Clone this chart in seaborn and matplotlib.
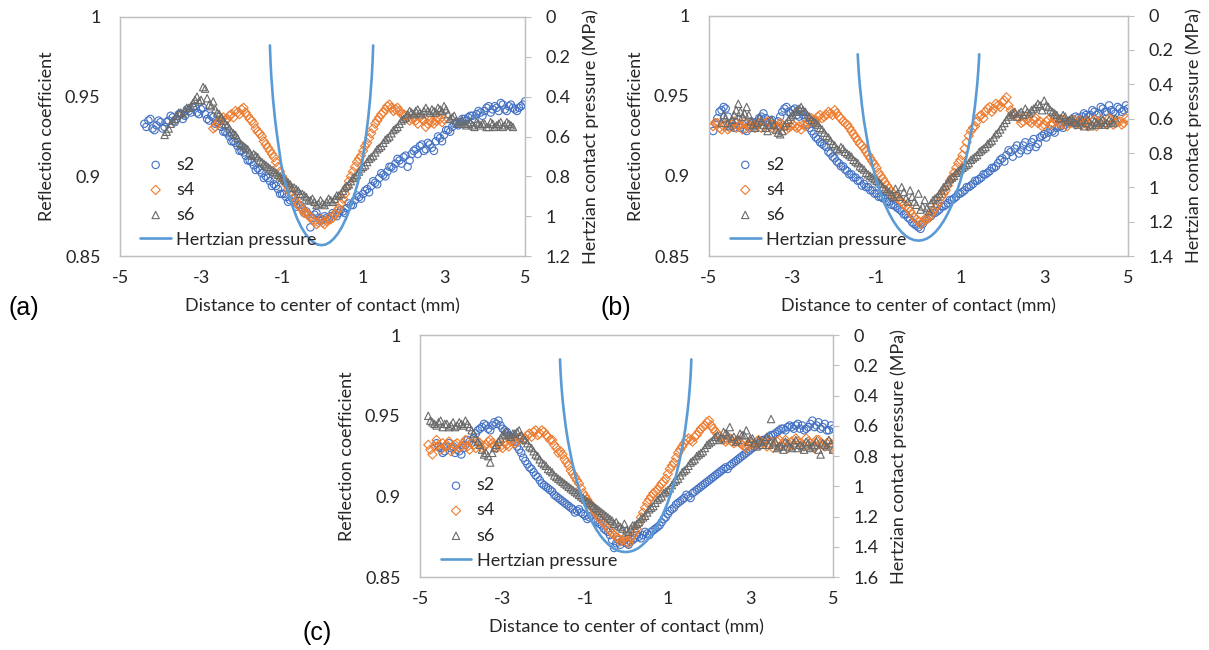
import numpy as np
import pandas as pd
import matplotlib
matplotlib.use("Agg")
import matplotlib.pyplot as plt
import seaborn as sns
from matplotlib.ticker import FuncFormatter, FixedLocator

# ---------------- data ----------------
# Each series is sampled every 0.1 mm (main list) plus the points lying
# between them (".._mid" list, starting 0.05 mm later).
STEP = 0.1
series_names = ["s2", "s4", "s6"]
line_name = "Hertzian pressure"
x_ticks = [-5, -3, -1, 1, 3, 5]
r_ticks = [0.85, 0.9, 0.95, 1.0]

# ---- panel (a)
a_s2_start = -4.4
a_s2 = [0.933, 0.935, 0.930, 0.932, 0.934, 0.931, 0.935, 0.937, 0.936, 0.939,
        0.938, 0.941, 0.943, 0.940, 0.942, 0.939, 0.935, 0.937, 0.934, 0.931,
        0.928, 0.925, 0.922, 0.919, 0.916, 0.913, 0.910, 0.907, 0.905, 0.902,
        0.900, 0.897, 0.895, 0.892, 0.889, 0.887, 0.885, 0.884, 0.882, 0.880,
        0.878, 0.868, 0.876, 0.874, 0.873, 0.874, 0.875, 0.876, 0.877, 0.878,
        0.880, 0.882, 0.885, 0.887, 0.889, 0.892, 0.894, 0.896, 0.899, 0.901,
        0.903, 0.906, 0.908, 0.910, 0.912, 0.906, 0.914, 0.917, 0.919, 0.916,
        0.921, 0.918, 0.922, 0.924, 0.926, 0.929, 0.931, 0.933, 0.934, 0.936,
        0.937, 0.938, 0.939, 0.940, 0.941, 0.944, 0.942, 0.943, 0.946, 0.942,
        0.944, 0.943, 0.941, 0.944, 0.947]
a_s2_mid = [0.931, 0.936, 0.929, 0.935, 0.930, 0.934, 0.938, 0.934, 0.939, 0.936,
            0.942, 0.940, 0.944, 0.939, 0.943, 0.936, 0.938, 0.933, 0.933, 0.928,
            0.927, 0.922, 0.921, 0.916, 0.915, 0.910, 0.909, 0.904, 0.904, 0.899,
            0.899, 0.894, 0.894, 0.889, 0.889, 0.884, 0.886, 0.881, 0.882, 0.877,
            0.876, 0.874, 0.877, 0.872, 0.875, 0.873, 0.877, 0.875, 0.879, 0.877,
            0.883, 0.882, 0.888, 0.886, 0.891, 0.890, 0.897, 0.895, 0.902, 0.900,
            0.906, 0.905, 0.911, 0.908, 0.913, 0.910, 0.916, 0.914, 0.920, 0.917,
            0.920, 0.916, 0.925, 0.922, 0.929, 0.928, 0.933, 0.932, 0.936, 0.935,
            0.938, 0.936, 0.941, 0.938, 0.943, 0.940, 0.944, 0.941, 0.945, 0.941,
            0.945, 0.942, 0.943, 0.945]
a_s4_start = -2.7
a_s4 = [0.930, 0.933, 0.936, 0.935, 0.938, 0.937, 0.940, 0.942, 0.940, 0.936,
        0.933, 0.928, 0.925, 0.920, 0.916, 0.912, 0.906, 0.900, 0.895, 0.890,
        0.886, 0.882, 0.879, 0.877, 0.874, 0.872, 0.871, 0.871, 0.872, 0.873,
        0.876, 0.880, 0.886, 0.893, 0.900, 0.906, 0.911, 0.916, 0.921, 0.927,
        0.933, 0.937, 0.940, 0.944, 0.943, 0.942, 0.941, 0.939, 0.937, 0.936,
        0.935, 0.937, 0.935, 0.933, 0.934, 0.935, 0.936, 0.936]
a_s4_mid = [0.931, 0.935, 0.937, 0.936, 0.939, 0.941, 0.939, 0.943, 0.938, 0.935,
            0.930, 0.927, 0.922, 0.918, 0.914, 0.909, 0.903, 0.898, 0.892, 0.888,
            0.884, 0.881, 0.877, 0.876, 0.873, 0.870, 0.873, 0.870, 0.874, 0.874,
            0.878, 0.883, 0.889, 0.897, 0.903, 0.909, 0.913, 0.919, 0.924, 0.930,
            0.935, 0.939, 0.942, 0.945, 0.941, 0.943, 0.939, 0.938, 0.935, 0.937,
            0.933, 0.936, 0.931, 0.935, 0.933, 0.937, 0.934]
a_s6_start = -3.9
a_s6 = [0.926, 0.930, 0.935, 0.938, 0.940, 0.941, 0.943, 0.946, 0.950, 0.948,
        0.955, 0.945, 0.947, 0.940, 0.937, 0.933, 0.930, 0.927, 0.924, 0.920,
        0.918, 0.915, 0.914, 0.912, 0.909, 0.907, 0.905, 0.903, 0.901, 0.899,
        0.897, 0.895, 0.893, 0.891, 0.889, 0.887, 0.885, 0.884, 0.883, 0.883,
        0.884, 0.885, 0.886, 0.888, 0.891, 0.894, 0.897, 0.900, 0.903, 0.906,
        0.909, 0.912, 0.915, 0.918, 0.921, 0.924, 0.927, 0.930, 0.933, 0.936,
        0.939, 0.940, 0.941, 0.940, 0.941, 0.941, 0.942, 0.940, 0.942, 0.944,
        0.939, 0.937, 0.935, 0.934, 0.933, 0.933, 0.932, 0.934, 0.932, 0.933,
        0.931, 0.933, 0.932, 0.934, 0.932, 0.933, 0.931]
a_s6_mid = [0.928, 0.933, 0.936, 0.940, 0.939, 0.943, 0.944, 0.948, 0.947, 0.956,
            0.949, 0.944, 0.942, 0.939, 0.935, 0.932, 0.928, 0.926, 0.921, 0.919,
            0.917, 0.913, 0.913, 0.910, 0.908, 0.906, 0.904, 0.902, 0.900, 0.898,
            0.896, 0.893, 0.892, 0.889, 0.888, 0.885, 0.886, 0.882, 0.885, 0.882,
            0.886, 0.884, 0.888, 0.889, 0.893, 0.895, 0.899, 0.901, 0.905, 0.907,
            0.911, 0.913, 0.917, 0.919, 0.923, 0.925, 0.929, 0.931, 0.935, 0.937,
            0.941, 0.939, 0.942, 0.939, 0.943, 0.940, 0.941, 0.943, 0.941, 0.942,
            0.936, 0.938, 0.933, 0.935, 0.932, 0.934, 0.931, 0.933, 0.933, 0.931,
            0.934, 0.931, 0.933, 0.931, 0.934, 0.932]
a_hx = [-1.300, -1.285, -1.265, -1.225, -1.175, -1.125, -1.025, -0.925, -0.825,
        -0.725, -0.625, -0.525, -0.425, -0.325, -0.225, -0.125, -0.025, 0.075,
        0.175, 0.275, 0.375, 0.475, 0.575, 0.675, 0.775, 0.875, 0.975, 1.075,
        1.125, 1.175, 1.215, 1.235, 1.250]
a_hp = [0.143, 0.225, 0.300, 0.409, 0.511, 0.592, 0.735, 0.830, 0.900, 0.960,
        1.013, 1.055, 1.088, 1.113, 1.131, 1.142, 1.145, 1.142, 1.131, 1.113,
        1.088, 1.055, 1.013, 0.960, 0.900, 0.830, 0.735, 0.592, 0.511, 0.409,
        0.300, 0.225, 0.143]
a_p_ticks = [0, 0.2, 0.4, 0.6, 0.8, 1.0, 1.2]

# ---- panel (b)
b_s2_start = -4.9
b_s2 = [0.928, 0.936, 0.941, 0.942, 0.933, 0.930, 0.935, 0.932, 0.928, 0.934,
        0.931, 0.936, 0.939, 0.933, 0.935, 0.931, 0.937, 0.942, 0.940, 0.941,
        0.938, 0.940, 0.936, 0.930, 0.926, 0.923, 0.920, 0.918, 0.914, 0.911,
        0.908, 0.906, 0.903, 0.901, 0.899, 0.897, 0.895, 0.893, 0.891, 0.889,
        0.887, 0.886, 0.884, 0.882, 0.880, 0.878, 0.876, 0.873, 0.870, 0.868,
        0.870, 0.873, 0.875, 0.877, 0.879, 0.881, 0.883, 0.885, 0.887, 0.889,
        0.891, 0.893, 0.895, 0.897, 0.899, 0.901, 0.903, 0.905, 0.908, 0.911,
        0.913, 0.915, 0.917, 0.914, 0.919, 0.916, 0.921, 0.918, 0.924, 0.926,
        0.927, 0.928, 0.930, 0.931, 0.932, 0.934, 0.935, 0.936, 0.937, 0.938,
        0.938, 0.940, 0.939, 0.942, 0.940, 0.941, 0.939, 0.942, 0.941, 0.942]
b_s2_mid = [0.933, 0.940, 0.943, 0.937, 0.931, 0.933, 0.930, 0.929, 0.931, 0.933,
            0.934, 0.937, 0.936, 0.934, 0.932, 0.934, 0.940, 0.943, 0.939, 0.942,
            0.937, 0.938, 0.932, 0.928, 0.924, 0.921, 0.919, 0.915, 0.912, 0.909,
            0.906, 0.904, 0.901, 0.899, 0.897, 0.894, 0.893, 0.891, 0.889, 0.887,
            0.886, 0.884, 0.882, 0.881, 0.879, 0.876, 0.874, 0.871, 0.869, 0.867,
            0.872, 0.874, 0.877, 0.878, 0.881, 0.882, 0.885, 0.886, 0.889, 0.890,
            0.893, 0.894, 0.897, 0.898, 0.901, 0.902, 0.905, 0.906, 0.910, 0.909,
            0.916, 0.912, 0.919, 0.916, 0.921, 0.918, 0.923, 0.920, 0.925, 0.924,
            0.929, 0.927, 0.931, 0.930, 0.934, 0.933, 0.937, 0.935, 0.939, 0.937,
            0.941, 0.938, 0.943, 0.940, 0.944, 0.940, 0.943, 0.940, 0.944]
b_s4_start = -4.9
b_s4 = [0.931, 0.933, 0.929, 0.932, 0.930, 0.934, 0.931, 0.929, 0.933, 0.931,
        0.930, 0.933, 0.931, 0.934, 0.932, 0.930, 0.933, 0.931, 0.930, 0.932,
        0.930, 0.929, 0.931, 0.934, 0.935, 0.937, 0.936, 0.938, 0.939, 0.941,
        0.937, 0.934, 0.932, 0.928, 0.924, 0.920, 0.917, 0.913, 0.909, 0.905,
        0.900, 0.896, 0.892, 0.889, 0.886, 0.884, 0.881, 0.878, 0.874, 0.872,
        0.871, 0.873, 0.876, 0.880, 0.884, 0.889, 0.894, 0.899, 0.905, 0.910,
        0.917, 0.925, 0.930, 0.934, 0.938, 0.940, 0.943, 0.942, 0.944, 0.946,
        0.949, 0.941, 0.938, 0.936, 0.934, 0.935, 0.933, 0.936, 0.934, 0.932,
        0.935, 0.933, 0.934, 0.932, 0.934, 0.933, 0.935, 0.933, 0.932, 0.934,
        0.932, 0.935, 0.933, 0.934, 0.932, 0.935, 0.933, 0.934, 0.933, 0.935]
b_s4_mid = [0.933, 0.930, 0.931, 0.929, 0.932, 0.930, 0.932, 0.934, 0.930, 0.932,
            0.932, 0.930, 0.933, 0.931, 0.929, 0.931, 0.932, 0.929, 0.931, 0.931,
            0.931, 0.932, 0.933, 0.936, 0.934, 0.938, 0.937, 0.940, 0.938, 0.939,
            0.936, 0.933, 0.930, 0.926, 0.922, 0.919, 0.915, 0.911, 0.907, 0.902,
            0.898, 0.894, 0.890, 0.887, 0.885, 0.882, 0.880, 0.876, 0.873, 0.870,
            0.873, 0.874, 0.878, 0.882, 0.887, 0.891, 0.897, 0.902, 0.908, 0.913,
            0.921, 0.928, 0.931, 0.937, 0.936, 0.942, 0.940, 0.945, 0.943, 0.947,
            0.944, 0.939, 0.937, 0.933, 0.937, 0.934, 0.935, 0.933, 0.931, 0.934,
            0.932, 0.936, 0.933, 0.935, 0.931, 0.934, 0.932, 0.935, 0.933, 0.931,
            0.934, 0.931, 0.935, 0.933, 0.936, 0.932, 0.934, 0.932, 0.936]
b_s6_start = -4.7
b_s6 = [0.933, 0.936, 0.931, 0.938, 0.945, 0.937, 0.943, 0.934, 0.930, 0.936,
        0.932, 0.928, 0.935, 0.929, 0.926, 0.931, 0.935, 0.938, 0.941, 0.943,
        0.940, 0.937, 0.934, 0.932, 0.929, 0.925, 0.922, 0.919, 0.916, 0.917,
        0.914, 0.912, 0.909, 0.906, 0.904, 0.901, 0.899, 0.897, 0.895, 0.892,
        0.890, 0.887, 0.889, 0.893, 0.886, 0.891, 0.884, 0.889, 0.881, 0.880,
        0.883, 0.886, 0.889, 0.893, 0.896, 0.899, 0.902, 0.904, 0.906, 0.908,
        0.911, 0.913, 0.916, 0.918, 0.921, 0.924, 0.927, 0.931, 0.935, 0.938,
        0.940, 0.939, 0.938, 0.940, 0.941, 0.943, 0.944, 0.947, 0.943, 0.940,
        0.938, 0.936, 0.937, 0.935, 0.934, 0.932, 0.935, 0.933, 0.931, 0.934,
        0.932, 0.935, 0.933, 0.934, 0.936]
b_s6_mid = [0.938, 0.933, 0.935, 0.941, 0.940, 0.939, 0.938, 0.932, 0.933, 0.934,
            0.930, 0.932, 0.932, 0.927, 0.928, 0.933, 0.937, 0.940, 0.942, 0.941,
            0.938, 0.935, 0.933, 0.930, 0.927, 0.924, 0.920, 0.917, 0.918, 0.915,
            0.913, 0.910, 0.908, 0.905, 0.902, 0.900, 0.898, 0.896, 0.893, 0.891,
            0.888, 0.892, 0.887, 0.890, 0.884, 0.887, 0.882, 0.879, 0.885, 0.878,
            0.885, 0.887, 0.891, 0.894, 0.898, 0.900, 0.903, 0.905, 0.907, 0.910,
            0.912, 0.915, 0.917, 0.920, 0.922, 0.926, 0.929, 0.933, 0.937, 0.939,
            0.937, 0.940, 0.942, 0.939, 0.942, 0.945, 0.941, 0.944, 0.941, 0.939,
            0.936, 0.938, 0.934, 0.936, 0.933, 0.934, 0.931, 0.935, 0.932, 0.933,
            0.934, 0.932, 0.935, 0.933]
b_hx = [-1.45, -1.44, -1.42, -1.40, -1.35, -1.30, -1.2, -1.1, -1.0, -0.9, -0.8,
        -0.7, -0.6, -0.5, -0.4, -0.3, -0.2, -0.1, 0.0, 0.1, 0.2, 0.3, 0.4, 0.5,
        0.6, 0.7, 0.8, 0.9, 1.0, 1.1, 1.2, 1.30, 1.35, 1.40, 1.42, 1.44, 1.45]
b_hp = [0.225, 0.272, 0.345, 0.405, 0.522, 0.614, 0.759, 0.871, 0.961, 1.037,
        1.100, 1.152, 1.196, 1.232, 1.261, 1.283, 1.298, 1.307, 1.310, 1.307,
        1.298, 1.283, 1.261, 1.232, 1.196, 1.152, 1.100, 1.037, 0.961, 0.871,
        0.759, 0.614, 0.522, 0.405, 0.345, 0.272, 0.225]
b_p_ticks = [0, 0.2, 0.4, 0.6, 0.8, 1.0, 1.2, 1.4]

# ---- panel (c)
c_s2_start = -4.6
c_s2 = [0.933, 0.930, 0.928, 0.933, 0.931, 0.929, 0.926, 0.932, 0.934, 0.936,
        0.941, 0.943, 0.944, 0.941, 0.946, 0.947, 0.942, 0.940, 0.937, 0.934,
        0.929, 0.924, 0.920, 0.917, 0.913, 0.910, 0.907, 0.905, 0.903, 0.900,
        0.898, 0.896, 0.894, 0.892, 0.891, 0.890, 0.888, 0.887, 0.886, 0.884,
        0.882, 0.879, 0.876, 0.868, 0.873, 0.872, 0.871, 0.872, 0.874, 0.875,
        0.876, 0.877, 0.878, 0.880, 0.882, 0.886, 0.889, 0.892, 0.895, 0.897,
        0.899, 0.900, 0.902, 0.904, 0.906, 0.908, 0.910, 0.912, 0.914, 0.916,
        0.918, 0.919, 0.921, 0.923, 0.925, 0.927, 0.929, 0.931, 0.933, 0.935,
        0.936, 0.938, 0.939, 0.941, 0.942, 0.943, 0.943, 0.944, 0.942, 0.941,
        0.943, 0.947, 0.944, 0.942, 0.945, 0.941, 0.942]
c_s2_mid = [0.931, 0.927, 0.931, 0.930, 0.927, 0.928, 0.930, 0.935, 0.933, 0.939,
            0.942, 0.945, 0.942, 0.944, 0.945, 0.944, 0.941, 0.938, 0.936, 0.931,
            0.927, 0.922, 0.918, 0.915, 0.912, 0.908, 0.906, 0.904, 0.901, 0.899,
            0.897, 0.895, 0.893, 0.890, 0.892, 0.889, 0.886, 0.888, 0.885, 0.883,
            0.880, 0.878, 0.873, 0.871, 0.870, 0.873, 0.870, 0.873, 0.876, 0.874,
            0.878, 0.876, 0.879, 0.881, 0.884, 0.887, 0.891, 0.893, 0.896, 0.898,
            0.901, 0.899, 0.903, 0.905, 0.907, 0.909, 0.911, 0.913, 0.915, 0.917,
            0.917, 0.920, 0.922, 0.924, 0.926, 0.928, 0.930, 0.932, 0.934, 0.935,
            0.937, 0.938, 0.940, 0.942, 0.941, 0.944, 0.942, 0.945, 0.944, 0.942,
            0.945, 0.943, 0.946, 0.943, 0.941, 0.944]
c_s4_start = -4.8
c_s4 = [0.932, 0.926, 0.935, 0.929, 0.931, 0.934, 0.930, 0.933, 0.931, 0.935,
        0.929, 0.932, 0.934, 0.930, 0.932, 0.935, 0.931, 0.933, 0.930, 0.932,
        0.934, 0.933, 0.936, 0.935, 0.938, 0.937, 0.941, 0.939, 0.940, 0.937,
        0.935, 0.930, 0.928, 0.923, 0.919, 0.914, 0.910, 0.905, 0.900, 0.896,
        0.892, 0.888, 0.885, 0.882, 0.879, 0.876, 0.874, 0.873, 0.872, 0.874,
        0.878, 0.883, 0.890, 0.896, 0.900, 0.903, 0.906, 0.909, 0.914, 0.919,
        0.924, 0.929, 0.933, 0.936, 0.934, 0.938, 0.942, 0.944, 0.947, 0.942,
        0.939, 0.936, 0.934, 0.936, 0.933, 0.935, 0.932, 0.930, 0.934, 0.932,
        0.935, 0.933, 0.931, 0.934, 0.932, 0.935, 0.933, 0.930, 0.934, 0.936,
        0.933, 0.931, 0.934, 0.932, 0.935, 0.933, 0.931, 0.934, 0.932]
c_s4_mid = [0.929, 0.931, 0.932, 0.933, 0.932, 0.928, 0.932, 0.930, 0.933, 0.931,
            0.933, 0.930, 0.933, 0.931, 0.934, 0.933, 0.930, 0.931, 0.933, 0.931,
            0.935, 0.934, 0.937, 0.936, 0.939, 0.940, 0.938, 0.941, 0.938, 0.935,
            0.932, 0.927, 0.926, 0.921, 0.916, 0.912, 0.908, 0.902, 0.898, 0.894,
            0.890, 0.886, 0.884, 0.880, 0.877, 0.875, 0.872, 0.874, 0.871, 0.876,
            0.880, 0.887, 0.893, 0.898, 0.902, 0.904, 0.908, 0.911, 0.917, 0.921,
            0.927, 0.931, 0.935, 0.935, 0.937, 0.940, 0.943, 0.946, 0.944, 0.940,
            0.937, 0.935, 0.935, 0.934, 0.934, 0.933, 0.931, 0.932, 0.933, 0.934,
            0.932, 0.934, 0.933, 0.930, 0.934, 0.932, 0.935, 0.932, 0.932, 0.934,
            0.932, 0.936, 0.933, 0.930, 0.935, 0.932, 0.933, 0.930]
c_s6_start = -4.8
c_s6 = [0.950, 0.946, 0.944, 0.947, 0.945, 0.943, 0.946, 0.944, 0.945, 0.947,
        0.943, 0.939, 0.934, 0.929, 0.927, 0.921, 0.930, 0.934, 0.938, 0.940,
        0.937, 0.939, 0.941, 0.936, 0.933, 0.930, 0.926, 0.923, 0.920, 0.917,
        0.915, 0.912, 0.910, 0.908, 0.906, 0.904, 0.902, 0.900, 0.898, 0.896,
        0.894, 0.892, 0.890, 0.888, 0.886, 0.883, 0.882, 0.880, 0.879, 0.880,
        0.882, 0.884, 0.887, 0.890, 0.893, 0.896, 0.899, 0.902, 0.904, 0.907,
        0.910, 0.913, 0.916, 0.919, 0.922, 0.925, 0.927, 0.930, 0.933, 0.935,
        0.938, 0.936, 0.939, 0.943, 0.937, 0.935, 0.938, 0.941, 0.936, 0.933,
        0.935, 0.932, 0.937, 0.948, 0.934, 0.931, 0.929, 0.933, 0.930, 0.935,
        0.932, 0.929, 0.933, 0.931, 0.934, 0.926, 0.932, 0.935, 0.929]
c_s6_mid = [0.947, 0.945, 0.946, 0.943, 0.945, 0.944, 0.943, 0.946, 0.944, 0.945,
            0.941, 0.936, 0.932, 0.926, 0.925, 0.927, 0.932, 0.936, 0.939, 0.938,
            0.939, 0.940, 0.938, 0.935, 0.931, 0.928, 0.925, 0.921, 0.919, 0.916,
            0.913, 0.911, 0.909, 0.907, 0.905, 0.903, 0.901, 0.899, 0.897, 0.895,
            0.893, 0.891, 0.889, 0.887, 0.885, 0.884, 0.881, 0.883, 0.878, 0.882,
            0.883, 0.886, 0.888, 0.892, 0.894, 0.898, 0.900, 0.903, 0.905, 0.909,
            0.911, 0.915, 0.917, 0.921, 0.923, 0.926, 0.928, 0.932, 0.934, 0.937,
            0.935, 0.940, 0.938, 0.936, 0.934, 0.939, 0.938, 0.934, 0.936, 0.931,
            0.934, 0.935, 0.932, 0.933, 0.930, 0.931, 0.934, 0.931, 0.933, 0.930,
            0.931, 0.934, 0.930, 0.932, 0.929, 0.933, 0.931, 0.933]
c_hx = [-1.61, -1.60, -1.58, -1.55, -1.52, -1.47, -1.42, -1.32, -1.22, -1.12,
        -1.02, -0.92, -0.82, -0.72, -0.62, -0.52, -0.42, -0.32, -0.22, -0.12,
        -0.02, 0.08, 0.18, 0.28, 0.38, 0.48, 0.58, 0.68, 0.78, 0.88, 0.98,
        1.08, 1.18, 1.28, 1.38, 1.43, 1.48, 1.51, 1.54, 1.56, 1.57]
c_hp = [0.160, 0.226, 0.319, 0.420, 0.499, 0.607, 0.695, 0.836, 0.949, 1.042,
        1.120, 1.186, 1.243, 1.290, 1.330, 1.363, 1.389, 1.410, 1.424, 1.432,
        1.435, 1.432, 1.424, 1.410, 1.389, 1.363, 1.330, 1.290, 1.243, 1.186,
        1.120, 1.042, 0.949, 0.836, 0.695, 0.607, 0.499, 0.420, 0.319, 0.226,
        0.160]
c_p_ticks = [0, 0.2, 0.4, 0.6, 0.8, 1.0, 1.2, 1.4, 1.6]

# ---------------- style ----------------
sns.set_theme(style="white")
plt.rcParams["font.family"] = ["Lato", "DejaVu Sans"]
plt.rcParams["axes.unicode_minus"] = False

COL = {"s2": "#4472C4", "s4": "#ED7D31", "s6": "#6A6A6A"}
MARK = {"s2": "o", "s4": "D", "s6": "^"}
SIZE = {"s2": 28, "s4": 22, "s6": 28}
LINE_COL = "#5B9BD5"
SPINE = "#BFBFBF"
TXT = "#262626"
FS = 13

fmt = FuncFormatter(lambda v, p: "{:g}".format(round(v, 3)))


def frame(start, vals, mid, name):
    x1 = start + STEP * np.arange(len(vals))
    x2 = start + STEP / 2 + STEP * np.arange(len(mid))
    return pd.DataFrame({"x": np.round(np.concatenate([x1, x2]), 3),
                         "R": list(vals) + list(mid), "series": name})


def panel(rect, s2, s4, s6, hx, hp, p_ticks):
    ax = fig.add_axes(rect)
    for name, (start, vals, mid) in zip(series_names, [s2, s4, s6]):
        df = frame(start, vals, mid, name)
        sns.scatterplot(data=df, x="x", y="R", ax=ax, marker=MARK[name],
                        s=SIZE[name], color=COL[name], facecolor="none",
                        edgecolor=COL[name], linewidth=0.8, label=name,
                        legend=False, zorder=3)
    ax.set_xlim(-5, 5)
    ax.set_ylim(0.85, 1.0)
    ax.xaxis.set_major_locator(FixedLocator(x_ticks))
    ax.yaxis.set_major_locator(FixedLocator(r_ticks))
    ax.xaxis.set_major_formatter(fmt)
    ax.yaxis.set_major_formatter(fmt)
    ax.tick_params(axis="both", length=0, labelsize=FS, colors=TXT)
    ax.tick_params(axis="x", pad=10)
    ax.tick_params(axis="y", pad=14)
    ax.set_xlabel("Distance to center of contact (mm)", fontsize=FS,
                  color=TXT, labelpad=9)
    ax.set_ylabel("Reflection coefficient", fontsize=FS, color=TXT,
                  labelpad=7)

    ax2 = ax.twinx()
    hdf = pd.DataFrame({"x": hx, "p": hp})
    sns.lineplot(data=hdf, x="x", y="p", ax=ax2, sort=False, estimator=None,
                 color=LINE_COL, linewidth=1.9, label=line_name, legend=False)
    ax2.set_ylim(p_ticks[-1], 0)
    ax2.yaxis.set_major_locator(FixedLocator(p_ticks))
    ax2.yaxis.set_major_formatter(fmt)
    ax2.tick_params(axis="y", right=True, length=4, width=0.8, color=SPINE,
                    labelsize=FS, labelcolor=TXT, pad=11, direction="out")
    ax2.set_ylabel("Hertzian contact pressure (MPa)", fontsize=FS, color=TXT,
                   labelpad=8)
    for a in (ax, ax2):
        for sp in a.spines.values():
            sp.set_color(SPINE)
            sp.set_linewidth(0.9)

    h1, l1 = ax.get_legend_handles_labels()
    h2, l2 = ax2.get_legend_handles_labels()
    leg = ax2.legend(h1 + h2, l1 + l2, loc="lower left", frameon=False,
                     fontsize=FS, handlelength=1.7, handletextpad=0.3,
                     labelspacing=0.5, borderpad=0, borderaxespad=0,
                     bbox_to_anchor=(0.05, 0.035))
    for t in leg.get_texts():
        t.set_color(TXT)
    return ax, ax2


fig = plt.figure(figsize=(12.09, 6.5), dpi=100)

panel([0.0993, 0.606, 0.335, 0.368],
      (a_s2_start, a_s2, a_s2_mid), (a_s4_start, a_s4, a_s4_mid),
      (a_s6_start, a_s6, a_s6_mid), a_hx, a_hp, a_p_ticks)
panel([0.5864, 0.606, 0.3466, 0.370],
      (b_s2_start, b_s2, b_s2_mid), (b_s4_start, b_s4, b_s4_mid),
      (b_s6_start, b_s6, b_s6_mid), b_hx, b_hp, b_p_ticks)
panel([0.3474, 0.1123, 0.3416, 0.372],
      (c_s2_start, c_s2, c_s2_mid), (c_s4_start, c_s4, c_s4_mid),
      (c_s6_start, c_s6, c_s6_mid), c_hx, c_hp, c_p_ticks)

LBL_FONT = ["Liberation Sans", "DejaVu Sans"]
fig.text(8 / 1209, 1 - 308 / 650, "(a)", fontsize=18, va="center",
         family=LBL_FONT, color="black")
fig.text(601 / 1209, 1 - 308 / 650, "(b)", fontsize=18, va="center",
         family=LBL_FONT, color="black")
fig.text(303 / 1209, 1 - 633 / 650, "(c)", fontsize=18, va="center",
         family=LBL_FONT, color="black")

fig.savefig("out.png", dpi=100, facecolor="white")
